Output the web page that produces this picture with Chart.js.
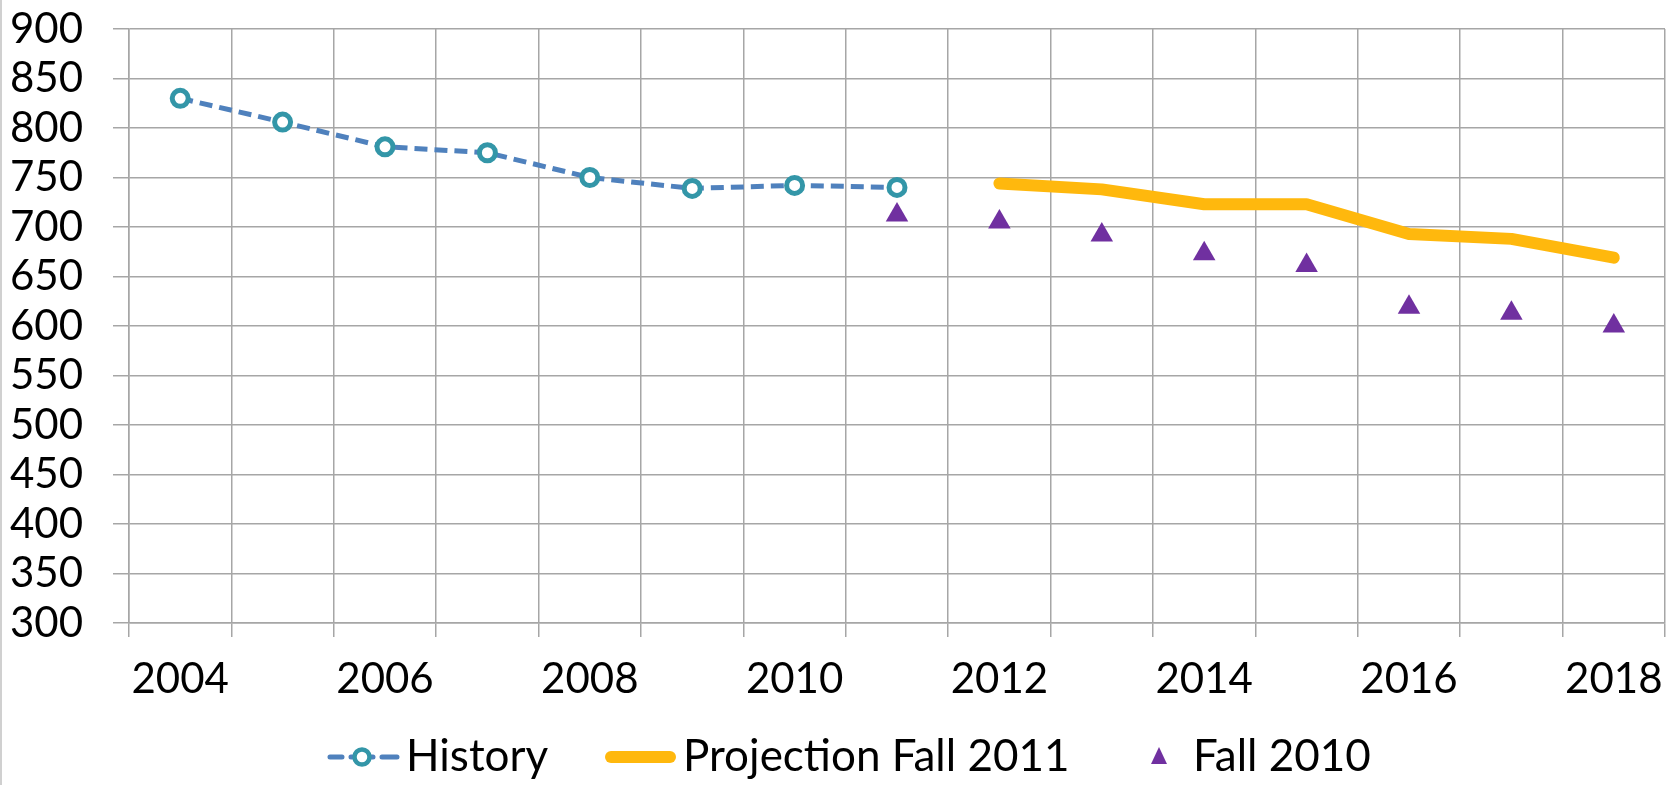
<!DOCTYPE html>
<html>
<head>
<meta charset="utf-8">
<script src="https://cdn.jsdelivr.net/npm/chart.js@4.4.0/dist/chart.umd.min.js"></script>
<style>
    body { margin: 0; background: #fff; }
    #wrap { width: 1678px; height: 785px; }
</style>
</head>
<body>
<div id="wrap"><canvas id="myChart" width="1678" height="785"></canvas></div>
<script>
// 横坐标
var years = ['2004', '2005', '2006', '2007', '2008', '2009', '2010', '2011', '2012', '2013', '2014', '2015', '2016', '2017', '2018']
// 历史数据
var historyData = [830, 806, 781, 775, 750, 739, 742, 740, null, null, null, null, null, null, null]
// 2011 秋季预测
var projection2011 = [null, null, null, null, null, null, null, null, 744, 738, 723, 723, 693, 688, 669]
// 2010 秋季预测
var fall2010 = [null, null, null, null, null, null, null, 712, 705, 692, 673, 661, 619, 613, 600]
var yTicks = { min: 300, max: 900, step: 50 }

var FONT = 'Lato, "Open Sans", sans-serif'

/** 仿 Excel 的图例 */
var excelLegend = {
    id: 'excelLegend',
    afterDraw: function (chart) {
        var ctx = chart.ctx
        var ds = chart.data.datasets
        var y = 757
        ctx.save()
        // 左边框
        ctx.strokeStyle = '#d0d0d0'
        ctx.lineWidth = 2
        ctx.beginPath()
        ctx.moveTo(1, 0)
        ctx.lineTo(1, 785)
        ctx.stroke()

        ctx.font = '44px ' + FONT
        ctx.textBaseline = 'middle'

        // History
        ctx.strokeStyle = ds[0].borderColor
        ctx.lineWidth = 5
        ctx.lineCap = 'round'
        ctx.beginPath()
        ctx.moveTo(330, y)
        ctx.lineTo(342, y)
        ctx.moveTo(351, y)
        ctx.lineTo(373, y)
        ctx.moveTo(382, y)
        ctx.lineTo(397, y)
        ctx.stroke()
        ctx.beginPath()
        ctx.arc(362, y, 7.5, 0, Math.PI * 2)
        ctx.fillStyle = '#fff'
        ctx.fill()
        ctx.lineWidth = 4.5
        ctx.strokeStyle = ds[0].pointBorderColor
        ctx.stroke()
        ctx.fillStyle = '#000'
        ctx.fillText(ds[0].label, 406, y)

        // Projection Fall 2011
        ctx.strokeStyle = ds[1].borderColor
        ctx.lineWidth = 12
        ctx.beginPath()
        ctx.moveTo(611, y)
        ctx.lineTo(670, y)
        ctx.stroke()
        ctx.fillText(ds[1].label, 683, y)

        // Fall 2010
        ctx.fillStyle = ds[2].pointBackgroundColor
        ctx.beginPath()
        ctx.moveTo(1159, y - 10)
        ctx.lineTo(1167, y + 7)
        ctx.lineTo(1151, y + 7)
        ctx.closePath()
        ctx.fill()
        ctx.fillStyle = '#000'
        ctx.fillText(ds[2].label, 1193, y)
        ctx.restore()
    }
}

var ctx = document.getElementById('myChart').getContext('2d')
var myChart = new Chart(ctx, {
    type: 'line',
    data: {
        labels: years,
        datasets: [
            {
                label: 'History',
                data: historyData,
                borderColor: '#4f81bd',
                borderWidth: 5,
                borderDash: [13, 7],
                pointRadius: 8,
                pointBorderWidth: 5,
                pointBorderColor: '#3396a8',
                pointBackgroundColor: '#fff',
                spanGaps: false,
                tension: 0
            },
            {
                label: 'Projection Fall 2011',
                data: projection2011,
                borderColor: '#ffb80d',
                borderWidth: 12,
                borderCapStyle: 'round',
                borderJoinStyle: 'round',
                pointRadius: 0,
                tension: 0
            },
            {
                label: 'Fall 2010',
                data: fall2010,
                showLine: false,
                pointStyle: 'triangle',
                pointRadius: 13,
                pointBorderWidth: 0,
                pointBackgroundColor: '#7030a0',
                pointBorderColor: '#7030a0'
            }
        ]
    },
    options: {
        responsive: false,
        animation: false,
        layout: { padding: { top: 29, right: 8, bottom: 72, left: 0 } },
        plugins: {
            legend: { display: false },
            tooltip: { enabled: false }
        },
        scales: {
            x: {
                offset: true,
                grid: { offset: true, color: '#a6a6a6', lineWidth: 1.5, tickLength: 14 },
                border: { color: '#a6a6a6', width: 1.5 },
                ticks: {
                    autoSkip: false,
                    maxRotation: 0,
                    padding: 17,
                    color: '#000',
                    font: { family: FONT, size: 42 },
                    callback: function (val, i) {
                        return i % 2 === 0 ? years[i] : ''
                    }
                },
                afterFit: function (scale) {
                    scale.height = 90
                    scale.paddingLeft = 0
                    scale.paddingRight = 0
                }
            },
            y: {
                min: yTicks.min,
                max: yTicks.max,
                grid: { color: '#a6a6a6', lineWidth: 1.5, tickLength: 16 },
                border: { color: '#a6a6a6', width: 1.5 },
                ticks: {
                    stepSize: yTicks.step,
                    autoSkip: false,
                    padding: 30,
                    color: '#000',
                    font: { family: FONT, size: 42 }
                },
                afterFit: function (scale) {
                    scale.width = 129
                    scale.paddingTop = 0
                    scale.paddingBottom = 0
                }
            }
        }
    },
    plugins: [excelLegend]
})
</script>
</body>
</html>
